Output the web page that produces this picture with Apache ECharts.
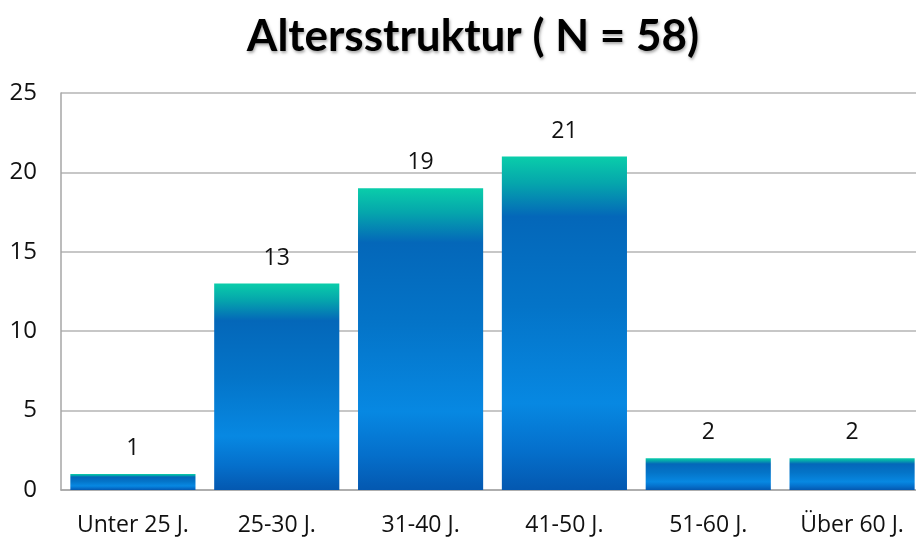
<!DOCTYPE html>
<html>
<head>
<meta charset="utf-8">
<style>
  html, body { margin: 0; padding: 0; background: #fff; overflow: hidden; }
  /* the plot runs slightly past the right edge of the window */
  #chart { width: 932px; height: 538px; }
</style>
<script src="https://cdn.jsdelivr.net/npm/echarts@6/dist/echarts.min.js"></script>
</head>
<body>
<div id="chart"></div>
<script>
// Age groups and the number of people in each
const categories = ['Unter 25 J.', '25-30 J.', '31-40 J.', '41-50 J.', '51-60 J.', 'Über 60 J.'];
const counts = [1, 13, 19, 21, 2, 2];
const yTicks = { min: 0, max: 25, interval: 5 };
const titleText = 'Altersstruktur ( N = 58)';

const font = '"Open Sans", "Noto Sans", sans-serif';

// Teal top fading into blue, with a lighter band near the foot of each bar
const barFill = new echarts.graphic.LinearGradient(0, 0, 0, 1, [
  { offset: 0, color: '#0acdaa' },
  { offset: 0.08, color: '#05a6ac' },
  { offset: 0.18, color: '#0467b9' },
  { offset: 0.45, color: '#0474c8' },
  { offset: 0.74, color: '#0788e2' },
  { offset: 0.88, color: '#0570cc' },
  { offset: 1, color: '#0458b0' }
]);

const chart = echarts.init(document.getElementById('chart'), null, { renderer: 'canvas' });
chart.setOption({
  animation: false,
  title: {
    text: titleText,
    left: 468,
    textAlign: 'center',
    top: 10,
    textStyle: {
      fontFamily: 'Lato, "Open Sans", sans-serif',
      fontWeight: 'bold',
      fontSize: 44,
      color: '#000',
      textShadowColor: 'rgba(0,0,0,0.35)',
      textShadowBlur: 3,
      textShadowOffsetX: 1,
      textShadowOffsetY: 2
    }
  },
  grid: { left: 61, top: 93, width: 863, height: 397, containLabel: false },
  xAxis: {
    type: 'category',
    data: categories,
    axisLine: { lineStyle: { color: '#a6a6a6', width: 1.5 } },
    axisTick: { show: false },
    axisLabel: { interval: 0, hideOverlap: false, fontFamily: font, fontSize: 23, color: '#111', margin: 24 }
  },
  yAxis: {
    type: 'value',
    min: yTicks.min,
    max: yTicks.max,
    interval: yTicks.interval,
    axisLine: { show: true, lineStyle: { color: '#a6a6a6', width: 1.5 } },
    axisTick: { show: false },
    splitLine: { lineStyle: { color: '#b4b4b4', width: 1.5 } },
    axisLabel: { fontFamily: font, fontSize: 24, color: '#111', margin: 24 }
  },
  series: [{
    type: 'bar',
    data: counts,
    barCategoryGap: '13%',
    itemStyle: { color: barFill },
    label: {
      show: true,
      position: 'top',
      distance: 14,
      fontFamily: font,
      fontSize: 23,
      color: '#111'
    }
  }]
});
</script>
</body>
</html>
